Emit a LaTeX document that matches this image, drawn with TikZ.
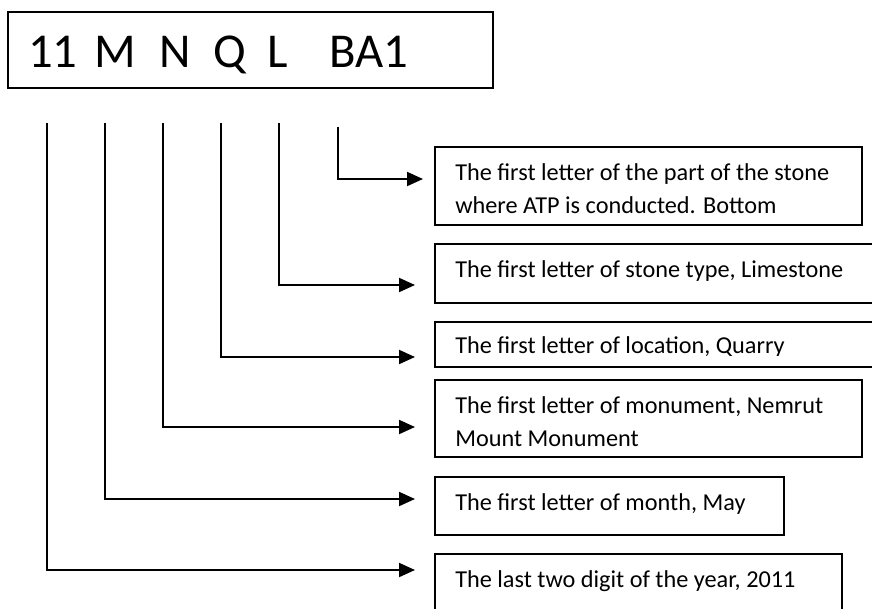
\documentclass[tikz,border=0pt]{standalone}
\usepackage{fontspec}
\setmainfont{Carlito}
\usetikzlibrary{arrows.meta}
\begin{document}
\begin{tikzpicture}[x=0.75pt,y=-0.75pt,
  codebox/.style 2 args={draw, line width=1.2pt, inner sep=0pt, anchor=north west,
    minimum width=#1*0.75pt, minimum height=#2*0.75pt},
  desc/.style={anchor=base west, inner sep=0pt, align=left,
    font=\fontsize{18.2pt}{24.75pt}\selectfont},
  link/.style={line width=1.5pt, -{Triangle[length=12pt,width=10.5pt]}}]
\clip (0,0) rectangle (872,608);

% the identification code
\node[codebox={485}{76}] (code) at (7,11) {};
\node[anchor=base west, inner sep=0pt, font=\fontsize{36.5pt}{40pt}\selectfont] (codetext) at (28,67)
  {11\hskip 12.5pt M\hskip 17.5pt N\hskip 17pt Q\hskip 16pt L\hskip 31pt BA1};

% explanation boxes (two-line texts are anchored on their last baseline)
\node[codebox={427}{78}] (bpart) at (434,146) {};
\node[desc] (tpart) at (455,213) {The first letter of the part of the stone\\where ATP is conducted. Bottom};

\node[codebox={460}{59}] (btype) at (434,243) {};
\node[desc] (ttype) at (455,277) {The first letter of stone type, Limestone};

\node[codebox={460}{45}] (bloc) at (434,321) {};
\begin{scope}
  \clip (436,323) rectangle (872,355);
  \node[desc] (tloc) at (455,353) {The first letter of location, Quarry};
\end{scope}

\node[codebox={427}{77}] (bmon) at (434,379) {};
\node[desc] (tmon) at (455,446) {The first letter of monument, Nemrut\\Mount Monument};

\node[codebox={349}{58}] (bmonth) at (434,476) {};
\node[desc] (tmonth) at (455,510) {The first letter of month, May};

\node[codebox={407}{70}] (byear) at (434,553) {};
\node[desc] (tyear) at (455,587) {The last two digit of the year, 2011};

% leader lines from each code letter
\coordinate (sYear)  at (46.7,123);
\coordinate (sMonth) at (105,123);
\coordinate (sMon)   at (162.7,123);
\coordinate (sLoc)   at (220.7,123);
\coordinate (sType)  at (279.3,123);
\coordinate (sPart)  at (337.5,126.7);

\coordinate (eYear)  at (415,570);
\coordinate (eMonth) at (415,499);
\coordinate (eMon)   at (415,427);
\coordinate (eLoc)   at (415,357);
\coordinate (eType)  at (415,285);
\coordinate (ePart)  at (423,179);

\draw[link] (sYear)  |- (eYear);
\draw[link] (sMonth) |- (eMonth);
\draw[link] (sMon)   |- (eMon);
\draw[link] (sLoc)   |- (eLoc);
\draw[link] (sType)  |- (eType);
\draw[link] (sPart)  |- (ePart);
\end{tikzpicture}
\end{document}
